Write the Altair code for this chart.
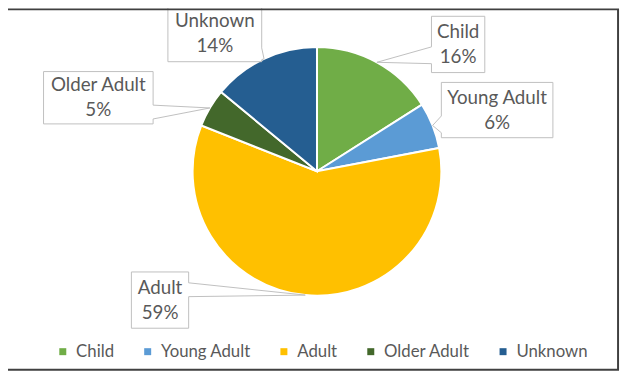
import math
import altair as alt
import pandas as pd

# ---- data ----
categories = ["Child", "Young Adult", "Adult", "Older Adult", "Unknown"]
values = [16, 6, 59, 5, 14]
colors = ["#70AD47", "#5B9BD5", "#FFC000", "#43682B", "#255E91"]

# ---- layout (view pixel coordinates) ----
W, H = 622, 369
CX, CY, R = 313, 163, 126
# callout boxes: x0, x1, y0, y1, wedge side, wedge base y1, wedge base y2
boxes = {
    "Child":       (429, 483, 6, 63, "left", 37, 54),
    "Young Adult": (439, 552, 73, 129, "left", 107, 124),
    "Adult":       (125, 183, 265, 322, "right", 276, 290),
    "Older Adult": (36, 147, 62, 115, "right", 96, 110),
    "Unknown":     (162, 257, -6, 52, "right", 38, 50),
}
TEXT = "#595959"
LINE = "#BFBFBF"
FONT = "Lato"

pie = pd.DataFrame({"cat": categories, "value": values, "idx": range(len(categories))})

# mid angles from the data
total = sum(values)
cum = 0
tips = {}
for c, v in zip(categories, values):
    mid = (cum + v / 2) / total * 2 * math.pi
    cum += v
    tips[c] = (CX + R * math.sin(mid), CY - R * math.cos(mid))

box_rows, text_rows, out_rows, wedge_rows = [], [], [], []
for c, v in zip(categories, values):
    x0, x1, y0, y1, side, b1, b2 = boxes[c]
    tx, ty = tips[c]
    box_rows.append({"cat": c, "x0": x0, "x1": x1, "y0": y0, "y1": y1})
    cx, cy = (x0 + x1) / 2, (y0 + y1) / 2
    text_rows.append({"cat": c, "x": cx, "y": cy - 12.5, "t": c})
    text_rows.append({"cat": c, "x": cx, "y": cy + 13, "t": f"{v}%"})
    if side == "left":
        pts = [(x0, y0), (x1, y0), (x1, y1), (x0, y1), (x0, b2), (tx, ty), (x0, b1), (x0, y0)]
        ex = x0
    else:
        pts = [(x0, y0), (x1, y0), (x1, b1), (tx, ty), (x1, b2), (x1, y1), (x0, y1), (x0, y0)]
        ex = x1
    for i, (px, py) in enumerate(pts):
        out_rows.append({"cat": c, "o": i, "x": px, "y": py})
    wedge_rows.append({"cat": c, "x": ex, "y": b1, "y2": b2})
    wedge_rows.append({"cat": c, "x": tx, "y": ty, "y2": ty})

xs = alt.Scale(domain=[0, W], range=[0, W])
ys = alt.Scale(domain=[0, H], range=[0, H])

arc = alt.Chart(pie).mark_arc(radius=R, stroke="white", strokeWidth=2).encode(
    theta=alt.Theta("value:Q", stack=True),
    order=alt.Order("idx:Q"),
    color=alt.Color(
        "cat:N",
        scale=alt.Scale(domain=categories, range=colors),
        sort=categories,
        legend=alt.Legend(
            title=None, orient="none", direction="horizontal",
            legendX=47, legendY=337, symbolType="square", symbolSize=50,
            symbolStrokeWidth=0, labelFontSize=17, labelColor=TEXT,
            labelFont=FONT, columnPadding=25, labelOffset=5,
        ),
    ),
    x=alt.value(CX), y=alt.value(CY),
)

wedges = alt.Chart(pd.DataFrame(wedge_rows)).mark_area(fill="white", opacity=1).encode(
    x=alt.X("x:Q", scale=xs, axis=None),
    y=alt.Y("y:Q", scale=ys, axis=None),
    y2="y2:Q",
    detail="cat:N",
)

rects = alt.Chart(pd.DataFrame(box_rows)).mark_rect(fill="white").encode(
    x=alt.X("x0:Q", scale=xs, axis=None), x2="x1:Q",
    y=alt.Y("y0:Q", scale=ys, axis=None), y2="y1:Q",
)

outline = alt.Chart(pd.DataFrame(out_rows)).mark_line(color=LINE, strokeWidth=1).encode(
    x=alt.X("x:Q", scale=xs, axis=None),
    y=alt.Y("y:Q", scale=ys, axis=None),
    detail="cat:N",
    order="o:Q",
)

texts = alt.Chart(pd.DataFrame(text_rows)).mark_text(
    font=FONT, fontSize=19, color=TEXT, align="center", baseline="middle"
).encode(
    x=alt.X("x:Q", scale=xs, axis=None),
    y=alt.Y("y:Q", scale=ys, axis=None),
    text="t:N",
)

frame = alt.Chart(pd.DataFrame({"a": [0]})).mark_rect(
    fill=None, stroke="#404040", strokeWidth=2
).encode(x=alt.value(-1), x2=alt.value(618), y=alt.value(-1), y2=alt.value(364))

chart = alt.layer(arc, wedges, rects, outline, texts, frame).properties(
    width=W, height=H, padding=0, autosize=alt.AutoSizeParams(type="none"),
    background="white",
).configure_view(stroke=None)

chart.save("out.html", embed_options={"renderer": "svg", "actions": False})
